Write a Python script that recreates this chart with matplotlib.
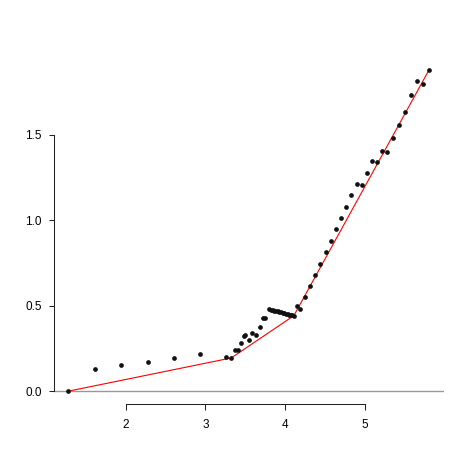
import numpy as np
import matplotlib
matplotlib.use("Agg")
import matplotlib.pyplot as plt

# --- DATA ---
pts_x = [1.285, 1.615, 1.941, 2.276, 2.602, 2.937, 3.263, 3.324,
         3.376, 3.409, 3.447, 3.481, 3.502, 3.543, 3.585, 3.640, 3.690,
         3.723, 3.753,
         3.800, 3.821, 3.842, 3.863, 3.884, 3.905, 3.926, 3.947, 3.968,
         3.989, 4.010, 4.031, 4.052, 4.073, 4.091, 4.108,
         4.149, 4.183, 4.246, 4.309, 4.371, 4.438, 4.506, 4.568, 4.635,
         4.698, 4.764, 4.827, 4.895, 4.957, 5.020, 5.082, 5.145, 5.212,
         5.279, 5.350, 5.429, 5.504, 5.576, 5.655, 5.726, 5.802]
pts_y = [0.000, 0.130, 0.152, 0.173, 0.194, 0.216, 0.200, 0.194,
         0.243, 0.241, 0.282, 0.325, 0.329, 0.298, 0.340, 0.331, 0.374,
         0.430, 0.428,
         0.478, 0.476, 0.473, 0.471, 0.468, 0.466, 0.463, 0.461, 0.458,
         0.456, 0.453, 0.451, 0.448, 0.446, 0.443, 0.441,
         0.496, 0.480, 0.550, 0.613, 0.681, 0.745, 0.813, 0.880, 0.946,
         1.012, 1.076, 1.144, 1.210, 1.204, 1.278, 1.344, 1.339, 1.405,
         1.399, 1.479, 1.555, 1.633, 1.732, 1.810, 1.794, 1.878]

# piecewise fit (red line)
line_x = [1.285, 3.324, 4.108, 5.802]
line_y = [0.000, 0.194, 0.441, 1.878]

x_ticks = [2, 3, 4, 5]
y_ticks = [0.0, 0.5, 1.0, 1.5]

plt.rcParams['font.family'] = ['Liberation Sans', 'DejaVu Sans']

fig = plt.figure(figsize=(4.73, 4.73), dpi=100)
ax = fig.add_axes([54 / 473, (473 - 404) / 473, (443.5 - 54) / 473, (404 - 57) / 473])

# R-style 4% padding
xr = max(pts_x) - min(pts_x)
yr = max(pts_y) - min(pts_y)
ax.set_xlim(min(pts_x) - 0.04 * xr, max(pts_x) + 0.04 * xr)
ax.set_ylim(min(pts_y) - 0.04 * yr, max(pts_y) + 0.04 * yr)

ax.axhline(0, color='#999999', lw=1.0, zorder=1)
ax.plot(line_x, line_y, color='red', lw=0.8, zorder=2)
ax.plot(pts_x, pts_y, 'o', color='#111111', ms=3.4, mew=0, zorder=3)

for s in ['top', 'right']:
    ax.spines[s].set_visible(False)
ax.spines['left'].set_bounds(0, 1.5)
ax.spines['bottom'].set_bounds(2, 5)
for s in ['left', 'bottom']:
    ax.spines[s].set_linewidth(0.75)
    ax.spines[s].set_color('#222222')

ax.set_xticks(x_ticks)
ax.set_xticklabels([str(t) for t in x_ticks])
ax.set_yticks(y_ticks)
ax.set_yticklabels([f"{t:.1f}" for t in y_ticks])
ax.tick_params(axis='x', length=4.5, width=0.75, pad=6, labelsize=8.5, color='#222222')
ax.tick_params(axis='y', length=3.8, width=0.75, pad=5, labelsize=8.5, color='#222222')

fig.savefig("out.png", dpi=100)
